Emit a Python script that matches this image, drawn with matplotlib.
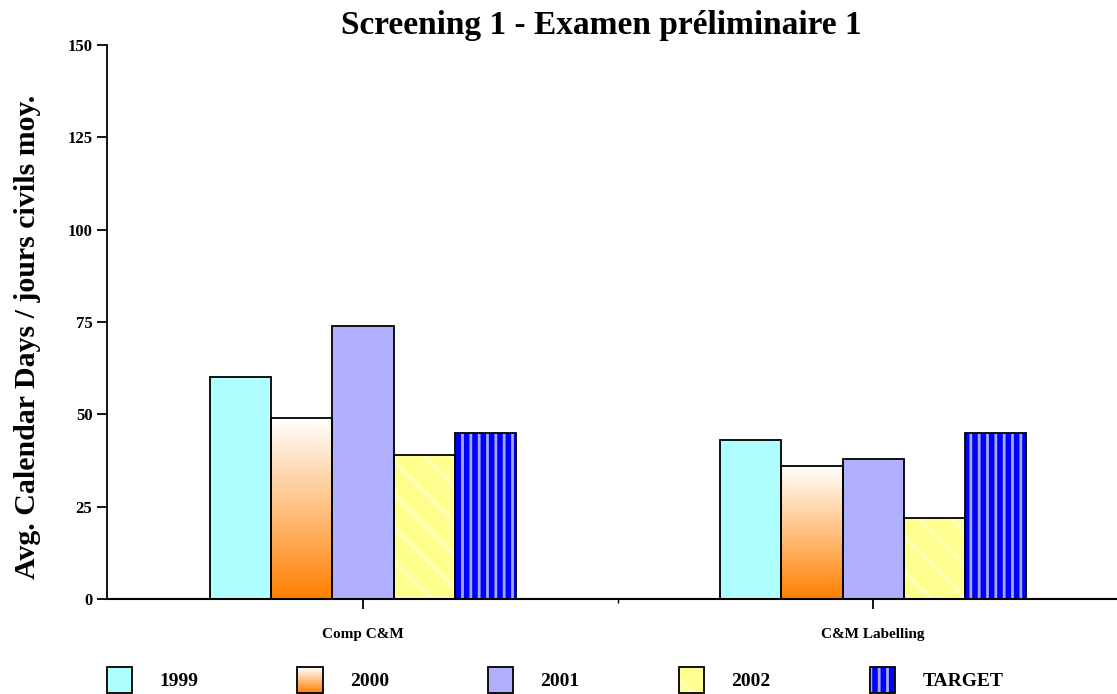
import numpy as np
import matplotlib
matplotlib.use("Agg")
import matplotlib.pyplot as plt
from matplotlib.patches import Patch, Rectangle
from matplotlib.legend_handler import HandlerBase, HandlerTuple

# data
categories = ["Comp C&M", "C&M Labelling"]
series = ["1999", "2000", "2001", "2002", "TARGET"]
v1999 = [60, 43]
v2000 = [49, 36]
v2001 = [74, 38]
v2002 = [39, 22]
target = [45, 45]
yticks = [0, 25, 50, 75, 100, 125, 150]

plt.rcParams["font.family"] = ["Liberation Serif", "DejaVu Serif"]
plt.rcParams["font.weight"] = "bold"
plt.rcParams["hatch.linewidth"] = 2.0

fig = plt.figure(figsize=(11.17, 6.94), dpi=100)
ax = fig.add_axes([0.0958, 0.1369, 0.9042, 0.7983])

x = np.arange(len(categories))
w = 0.12
offs = [-2, -1, 0, 1, 2]
vals = [v1999, v2000, v2001, v2002, target]
faces = ["#B0FFFF", "none", "#B0B0FF", "#FFFF90", "#0000FF"]
hatches = [None, None, None, "\\", "||"]
hcols = [None, None, None, "#FFFFBC", "#A8A8FF"]

border_bars = []
for i, v in enumerate(vals):
    xs = x + offs[i] * w
    if faces[i] != "none":
        ax.bar(xs, v, w, color=faces[i], linewidth=0, zorder=2)
    if hatches[i]:
        ax.bar(xs, v, w, color="none", edgecolor=hcols[i], hatch=hatches[i],
               linewidth=0, zorder=2.1)
    bb = ax.bar(xs, v, w, color="none", edgecolor="black", linewidth=1.3, zorder=3)
    border_bars.append(bb)

# gradient fill for 2000
grad = np.linspace(0, 1, 256).reshape(-1, 1)
cmap = matplotlib.colors.LinearSegmentedColormap.from_list("g", ["#FFFFFF", "#FF8000"])
for p in border_bars[1]:
    im = ax.imshow(grad, cmap=cmap, aspect="auto", origin="upper",
                   extent=[p.get_x(), p.get_x() + p.get_width(), 0, p.get_height()],
                   zorder=2)
    im.set_clip_path(p)

ax.set_xlim(-0.502, 1.478)
ax.set_ylim(0, 150)
ax.set_yticks(yticks)
ax.set_xticks(x)
ax.set_xticklabels(categories, fontsize=11, fontweight="bold")
ax.set_xticks([0.5], minor=True)
ax.tick_params(axis="x", which="major", length=7, width=1.3, pad=14, direction="out")
ax.tick_params(axis="x", which="minor", length=3, width=1)
ax.tick_params(axis="y", length=7, width=1.3, labelsize=12, direction="out")
for lab in ax.get_yticklabels():
    lab.set_fontweight("bold")
for s in ["top", "right"]:
    ax.spines[s].set_visible(False)
ax.spines["left"].set_linewidth(1.3)
ax.spines["bottom"].set_linewidth(1.5)
ax.spines["bottom"].set_zorder(4)

ax.set_ylabel("Avg. Calendar Days / jours civils moy.", fontsize=21.5,
              fontweight="bold")
ax.yaxis.set_label_coords(-0.065, 0.473)
ax.set_title("Screening 1 - Examen préliminaire 1", fontsize=24,
             fontweight="bold", pad=8, x=0.489)


class GradHandler(HandlerBase):
    def create_artists(self, legend, orig, xd, yd, width, height, fontsize, trans):
        arts = []
        n = 20
        for k in range(n):
            c = cmap(k / (n - 1))
            r = Rectangle((-xd, -yd + height * (1 - (k + 1) / n)), width, height / n,
                          facecolor=c, edgecolor="none", transform=trans)
            arts.append(r)
        arts.append(Rectangle((-xd, -yd), width, height, facecolor="none",
                              edgecolor="black", linewidth=1.3, transform=trans))
        return arts


handles = []
for i in range(5):
    if i == 1:
        handles.append(Patch(facecolor="none", edgecolor="black"))
        continue
    parts = [Patch(facecolor=faces[i], edgecolor="none")]
    if hatches[i]:
        parts.append(Patch(facecolor="none", edgecolor=hcols[i], hatch=hatches[i],
                           linewidth=0))
    parts.append(Patch(facecolor="none", edgecolor="black", linewidth=1.3))
    handles.append(tuple(parts))

hmap = {handles[1]: GradHandler()}
for h in handles:
    if isinstance(h, tuple):
        hmap[h] = HandlerTuple(ndivide=1)

fig.legend(handles, series, handler_map=hmap, loc="lower left",
           bbox_to_anchor=(0.085, -0.016), ncol=5, frameon=False,
           prop={"size": 14, "weight": "bold"},
           handlelength=1.3, handleheight=1.75, handletextpad=1.4,
           columnspacing=5.1, borderpad=0.1)

fig.savefig("out.png", dpi=100)
